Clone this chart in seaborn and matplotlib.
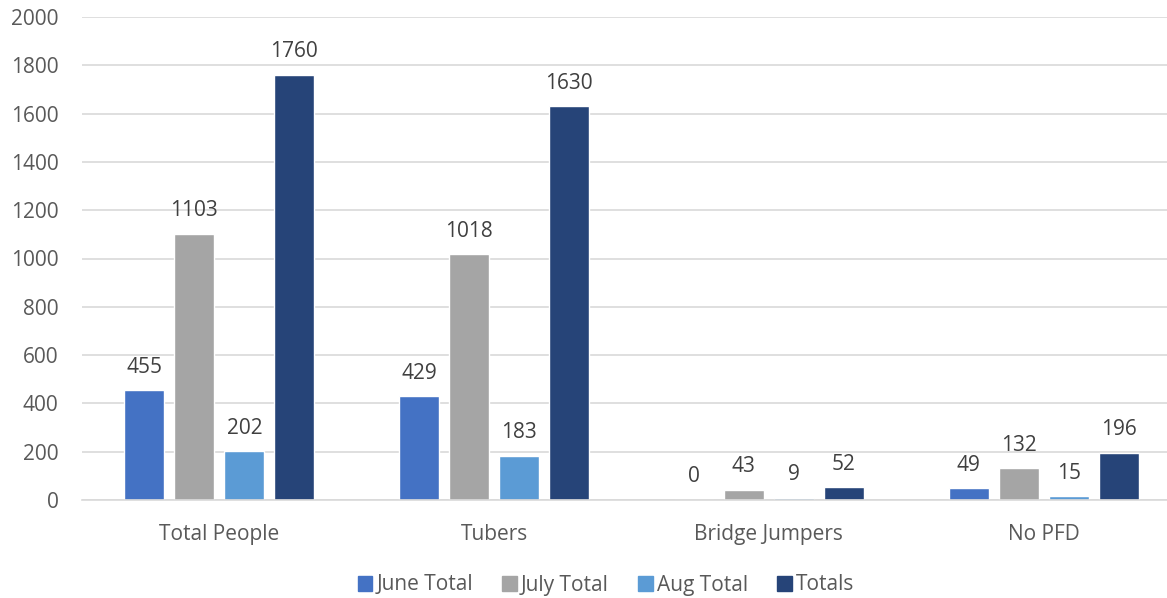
import numpy as np
import pandas as pd
import seaborn as sns
import matplotlib.pyplot as plt

categories = ["Total People", "Tubers", "Bridge Jumpers", "No PFD"]
june_total = [455, 429, 0, 49]
july_total = [1103, 1018, 43, 132]
aug_total = [202, 183, 9, 15]
totals = [1760, 1630, 52, 196]

series = ["June Total", "July Total", "Aug Total", "Totals"]
colours = ["#4472C4", "#A5A5A5", "#5B9BD5", "#264478"]

df = pd.DataFrame({
    "category": categories * 4,
    "series": np.repeat(series, len(categories)),
    "value": june_total + july_total + aug_total + totals,
})

sns.set_theme(style="white")
plt.rcParams["font.family"] = ["Open Sans", "DejaVu Sans"]
txt = "#595959"

fig = plt.figure(figsize=(11.67, 5.98), dpi=100)
ax = fig.add_axes([82 / 1167, 98 / 598, 1099 / 1167, 483 / 598])

sns.barplot(data=df, x="category", y="value", hue="series", palette=colours,
            width=0.728, gap=0.2, ax=ax, legend=False, saturation=1)

for c in ax.containers:
    ax.bar_label(c, padding=9, fontsize=15, color="#404040")

ax.set_ylim(0, 2000)
ax.set_xlim(-0.5, 3.5)
ax.set_yticks(range(0, 2001, 200))
ax.yaxis.grid(True, color="#D9D9D9", lw=1.2)
ax.set_axisbelow(True)
for s in ["top", "right", "left"]:
    ax.spines[s].set_visible(False)
ax.spines["bottom"].set_color("#D9D9D9")
ax.spines["bottom"].set_linewidth(1.2)
ax.tick_params(axis="both", length=0, labelsize=15, labelcolor=txt)
ax.tick_params(axis="x", pad=17)
ax.tick_params(axis="y", pad=17)
ax.set_xlabel("")
ax.set_ylabel("")

handles = [plt.Rectangle((0, 0), 1, 1, color=c) for c in colours]
fig.legend(handles, series, loc="center", bbox_to_anchor=(606 / 1167, 13 / 598),
           ncol=4, frameon=False, fontsize=15, handlelength=0.7, handleheight=0.7,
           handletextpad=0.2, columnspacing=1.4, labelcolor=txt)

fig.savefig("out.png", dpi=100)
